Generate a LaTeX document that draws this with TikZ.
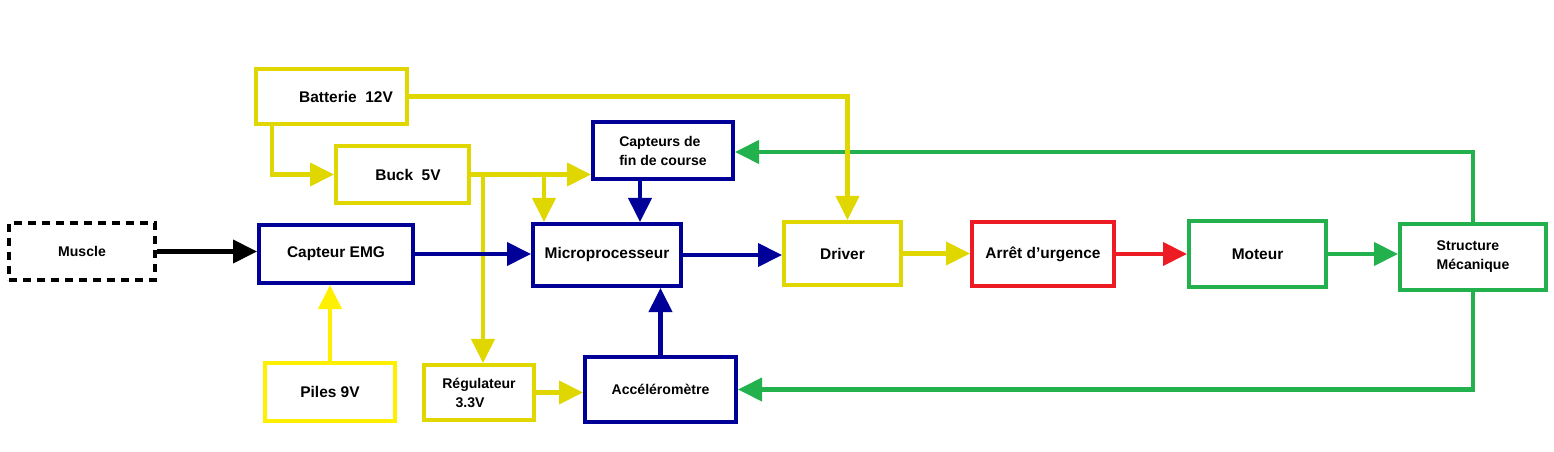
\documentclass[tikz,border=0pt]{standalone}
\usepackage{fontspec}
\setmainfont{Liberation Sans}
\usepackage{tikz}
\usetikzlibrary{arrows.meta}

\definecolor{jaune}{RGB}{224,214,0}
\definecolor{jauneclair}{RGB}{255,240,0}
\definecolor{bleu}{RGB}{0,0,153}
\definecolor{rouge}{RGB}{237,28,36}
\definecolor{vert}{RGB}{34,177,76}

\tikzset{
  bloc/.style={draw,line width=2.3pt,inner sep=0pt,align=left,
    font=\bfseries\fontsize{8.8}{10.8}\selectfont},
  petit/.style={font=\bfseries\fontsize{8}{10.8}\selectfont},
  fleche/.style={line width=2.3pt,-{Triangle[length=0.48cm,width=0.46cm]}}
}

\begin{document}
\begin{tikzpicture}[x=0.02cm,y=-0.02cm]
    \useasboundingbox (0,0) rectangle (1554,452);
    \node[bloc,draw=jaune,minimum width=3.02cm,minimum height=1.10cm] (bat) at (331.5,96.5) {\hspace*{0.58cm}Batterie~~12V};
    \node[bloc,draw=jaune,minimum width=2.66cm,minimum height=1.14cm] (buck) at (402.5,174.5) {\hspace*{0.22cm}Buck~~5V};
    \node[bloc,petit,draw=black,dash pattern=on 0.16cm off 0.12cm,minimum width=2.92cm,minimum height=1.14cm] (muscle) at (82,251.5) {Muscle};
    \node[bloc,draw=bleu,minimum width=3.08cm,minimum height=1.16cm] (emg) at (336,254) {Capteur EMG};
    \node[bloc,draw=jauneclair,minimum width=2.6cm,minimum height=1.16cm] (piles) at (330,392) {Piles 9V};
    \node[bloc,petit,draw=jaune,align=center,minimum width=2.2cm,minimum height=1.10cm] (reg) at (479,392.5) {Régulateur\\3.3V\hspace*{0.36cm}};
    \node[bloc,petit,draw=bleu,minimum width=2.8cm,minimum height=1.14cm] (fdc) at (663,150.5) {Capteurs de\\fin de course};
    \node[bloc,draw=bleu,minimum width=2.96cm,minimum height=1.24cm] (micro) at (607,255) {Microprocesseur};
    \node[bloc,draw=jaune,minimum width=2.34cm,minimum height=1.26cm] (driver) at (842.5,253.5) {Driver};
    \node[bloc,petit,draw=bleu,minimum width=3.02cm,minimum height=1.30cm] (accel) at (660.5,389.5) {Accéléromètre};
    \node[bloc,draw=rouge,minimum width=2.84cm,minimum height=1.28cm] (arret) at (1043,254) {Arrêt d\symbol{39}urgence};
    \node[bloc,draw=vert,minimum width=2.74cm,minimum height=1.32cm] (moteur) at (1257.5,254) {Moteur};
    \node[bloc,petit,draw=vert,minimum width=2.92cm,minimum height=1.32cm] (struct) at (1473,257) {Structure\\Mécanique};
    \coordinate (j1) at (544,175);
    \coordinate (j2) at (483,175);
    \draw[fleche,vert] (struct.north) |- ([yshift=-0.03cm]fdc.east);
    \draw[fleche,vert] (struct.south) |- (accel.east);
    \draw[fleche,jaune] ([xshift=0.36cm]bat.south west) |- (buck.west);
    \draw[fleche,jaune] (bat.east) -| ([xshift=0.1cm]driver.north);
    \draw[fleche,jaune] (buck.east) -- (buck.east -| fdc.west);
    \draw[fleche,jaune] (j1) -- (j1 |- micro.north);
    \draw[fleche,jaune] (j2) -- (j2 |- reg.north);
    \draw[fleche,jaune] (reg.east) -- (reg.east -| accel.west);
    \draw[fleche,jauneclair] (piles.north) -- (piles.north |- emg.south);
    \draw[fleche,black] (muscle.east) -- (muscle.east -| emg.west);
    \draw[fleche,bleu] (emg.east) -- (emg.east -| micro.west);
    \draw[fleche,bleu] ([xshift=-0.46cm]fdc.south) -- ([xshift=-0.46cm]fdc.south |- micro.north);
    \draw[fleche,bleu] (accel.north) -- (accel.north |- micro.south);
    \draw[fleche,bleu] (micro.east) -- (micro.east -| driver.west);
    \draw[fleche,jaune] (driver.east) -- (driver.east -| arret.west);
    \draw[fleche,rouge] (arret.east) -- (arret.east -| moteur.west);
    \draw[fleche,vert] (moteur.east) -- (moteur.east -| struct.west);
\end{tikzpicture}
\end{document}
